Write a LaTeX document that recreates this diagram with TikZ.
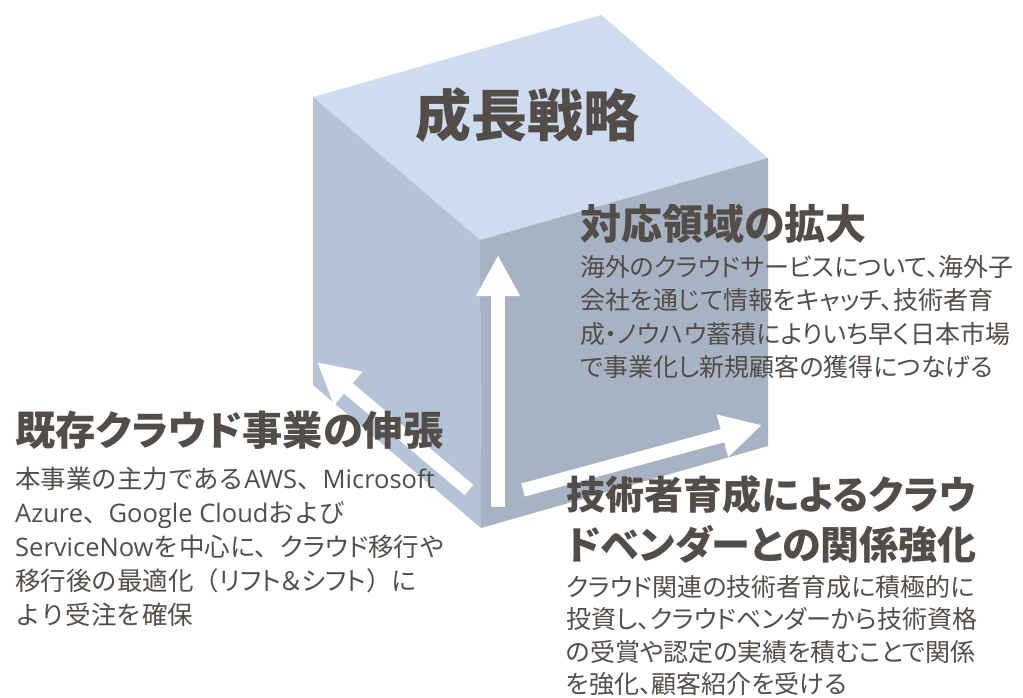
\documentclass[tikz,border=0pt]{standalone}
\usepackage{fontspec}
\setmainfont{Noto Sans CJK JP}[RawFeature=+palt]
\newfontfamily\jpn{Noto Sans CJK JP}
\newfontfamily\pal{Noto Sans CJK JP}[RawFeature=+palt]
\newfontfamily\lat{Open Sans}
\usetikzlibrary{arrows.meta}
\definecolor{topc}{RGB}{206,220,239}
\definecolor{leftc}{RGB}{181,195,214}
\definecolor{rightc}{RGB}{167,178,194}
\definecolor{txt}{RGB}{83,77,73}
\begin{document}
\begin{tikzpicture}[x=1pt,y=-1pt,
  title/.style={font=\bfseries\fontsize{56}{60}\selectfont, text=txt, inner sep=0pt, anchor=base west},
  head/.style={font=\bfseries\fontsize{41}{50}\selectfont, text=txt, inner sep=0pt, anchor=base west, align=left},
  body/.style={font=\fontsize{25}{33.3}\selectfont, text=txt, inner sep=0pt, anchor=base west, align=left},
  bigarrow/.style={draw=white, line width=13.5pt, -{Triangle[width=41pt,length=41pt]}}]
\useasboundingbox (0,0) rectangle (1023,697);
% cube
\coordinate (tl) at (313,97);
\coordinate (tb) at (601,15);
\coordinate (tr) at (768,158);
\coordinate (tf) at (480,240);
\coordinate (bl) at (313,385);
\coordinate (bf) at (481,528);
\coordinate (br) at (768,446);
\fill[topc] (tl) -- (tb) -- (tr) -- (tf) -- cycle;
\fill[leftc] (tl) -- (tf) -- (bf) -- (bl) -- cycle;
\fill[rightc] (tf) -- (tr) -- (br) -- (bf) -- cycle;
% arrows
\coordinate (va0) at (498,507);
\coordinate (va1) at (498,255);
\coordinate (ra0) at (523,490);
\coordinate (ra1) at (762,425);
\coordinate (la0) at (469,490);
\coordinate (la1) at (317,362);
\draw[bigarrow] (va0) -- (va1);
\draw[bigarrow] (ra0) -- (ra1);
\draw[bigarrow] (la0) -- (la1);
% texts (anchor = baseline of the last line)
\node[title] (t) at (415,136) {成長戦略};
\node[head] (h1) at (580,239) {対応領域の拡大};
\node[body] (b1) at (580,376.4) {海外のクラウドサービスについて、海外子\\会社を通じて情報をキャッチ、技術者育\\成・ノウハウ蓄積によりいち早く日本市場\\で事業化し新規顧客の獲得につなげる};
\node[head, font=\bfseries\fontsize{40.3}{50}\selectfont] (h2) at (15,445) {既存クラウド事業の伸張};
\node[body, font=\jpn\fontsize{25.5}{34}\selectfont] (b2) at (15,624.5) {本事業の主力である{\lat AWS}、{\lat Microsoft}\\{\lat Azure}、{\lat Google Cloud}および\\{\lat ServiceNow}を中心に、{\pal クラウド}移行や\\移行後の最適化（{\pal リフト＆シフト}）に\\より受注を確保};
\node[head, font=\bfseries\fontsize{39}{50}\selectfont] (h3) at (566,559) {技術者育成によるクラウ\\ドベンダーとの関係強化};
\node[body, font=\fontsize{25}{32.3}\selectfont] (b3) at (566,693.4) {クラウド関連の技術者育成に積極的に\\投資し、クラウドベンダーから技術資格\\の受賞や認定の実績を積むことで関係\\を強化、顧客紹介を受ける};
\end{tikzpicture}
\end{document}
